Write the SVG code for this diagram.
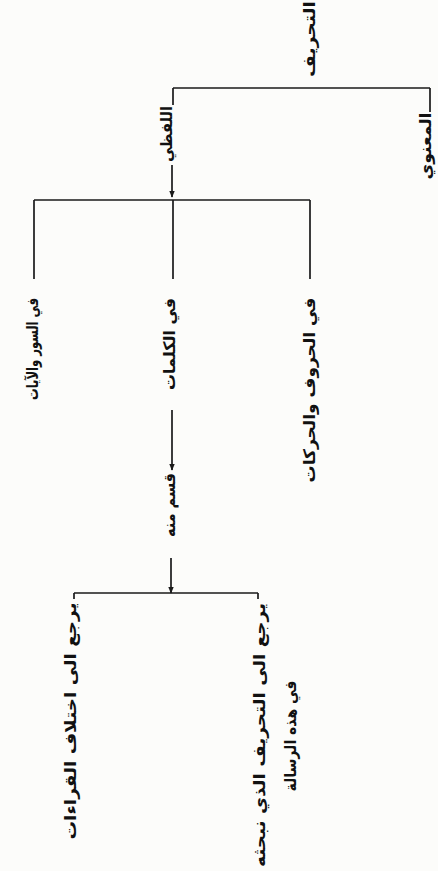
<svg xmlns="http://www.w3.org/2000/svg" width="438" height="871" viewBox="0 0 438 871">
<defs>
<style>
.t{font-family:"DejaVu Sans","Noto Sans",sans-serif;font-size:16px;font-weight:bold;fill:#111;text-anchor:middle;dominant-baseline:central;direction:rtl}
.c{stroke:#1a1a1a;stroke-width:1.7;fill:none}
</style>
<marker id="ah" viewBox="0 0 10 10" refX="9" refY="5" markerWidth="7" markerHeight="7" orient="auto" markerUnits="userSpaceOnUse">
<path d="M0,1 L10,5 L0,9 Z" fill="#1a1a1a"/>
</marker>
</defs>
<rect width="438" height="871" fill="#fcfcfa"/>
<g id="connectors">
<path class="c" d="M173,88 H430 M173,88 V105 M430,88 V112"/>
<path class="c" d="M172,165 V197" marker-end="url(#ah)"/>
<path class="c" d="M34,200 H310 M34,200 V279 M173,200 V279 M310,200 V279"/>
<path class="c" d="M172,410 V470" marker-end="url(#ah)"/>
<path class="c" d="M171,558 V593" marker-end="url(#ah)"/>
<path class="c" d="M74,593 H258 M74,593 V599 M258,593 V599"/>
</g>
<g id="n-root"><text class="t" transform="rotate(-90 309 39)" x="309" y="39" textLength="76" lengthAdjust="spacingAndGlyphs">التحريف</text></g>
<g id="n-manawi"><text class="t" transform="rotate(-90 425 146)" x="425" y="146" textLength="67" lengthAdjust="spacingAndGlyphs">المعنوي</text></g>
<g id="n-lafzi"><text class="t" transform="rotate(-90 166 134)" x="166" y="134" textLength="56" lengthAdjust="spacingAndGlyphs">اللفظي</text></g>
<g id="n-suwar"><text class="t" transform="rotate(-90 32 349)" x="32" y="349" textLength="102" lengthAdjust="spacingAndGlyphs">في السور والآيات</text></g>
<g id="n-kalimat"><text class="t" transform="rotate(-90 169 344)" x="169" y="344" textLength="92" lengthAdjust="spacingAndGlyphs">في الكلمات</text></g>
<g id="n-huruf"><text class="t" transform="rotate(-90 309 390)" x="309" y="390" textLength="185" lengthAdjust="spacingAndGlyphs">في الحروف والحركات</text></g>
<g id="n-qism"><text class="t" transform="rotate(-90 169 505)" x="169" y="505" textLength="64" lengthAdjust="spacingAndGlyphs">قسم منه</text></g>
<g id="n-qiraat"><text class="t" transform="rotate(-90 70 721)" x="70" y="721" textLength="237" lengthAdjust="spacingAndGlyphs">يرجع الى اختلاف القراءات</text></g>
<g id="n-risala">
<text class="t" transform="rotate(-90 259 735)" x="259" y="735" textLength="264" lengthAdjust="spacingAndGlyphs">يرجع الى التحريف الذي نبحثه</text>
<text class="t" transform="rotate(-90 290 736)" x="290" y="736" textLength="111" lengthAdjust="spacingAndGlyphs">في هذه الرسالة</text>
</g>
</svg>
